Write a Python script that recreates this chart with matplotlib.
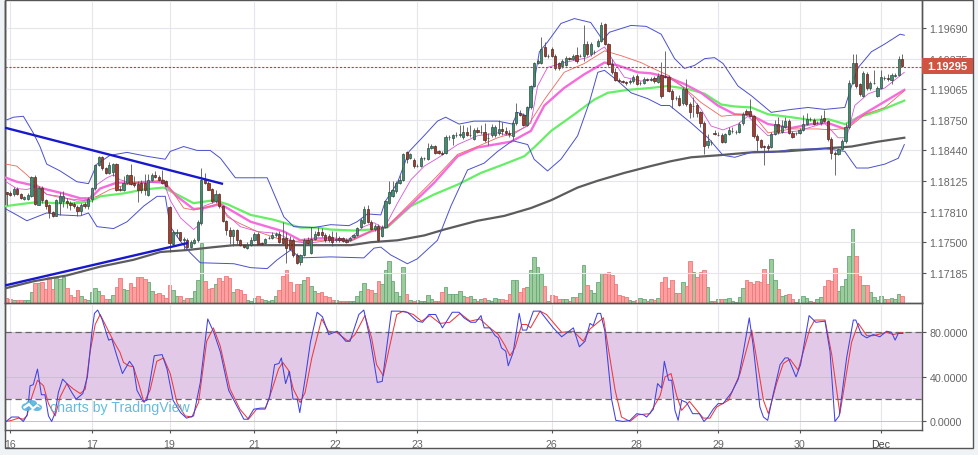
import numpy as np
import matplotlib
matplotlib.use('Agg')
import matplotlib.pyplot as plt
from matplotlib.patches import Rectangle, Ellipse, Polygon

plt.rcParams['font.family'] = ['Liberation Sans', 'DejaVu Sans']

# precios en pips sobre 1.17000, velas de 1 hora
BASE = 1.17
abre = [101,100,99,105,99,94,94,97,117,88,
    106,93,88,81,77,90,92,92,90,89,
    86,82,89,87,94,106,129,137,126,121,
    122,130,105,103,111,119,111,110,111,111,
    98,114,119,117,114,113,86,48,59,60,
    52,52,45,49,52,70,115,111,105,92,
    99,87,72,63,56,63,52,47,44,47,
    52,58,49,49,54,54,57,58,54,54,
    52,52,37,30,37,52,39,53,60,60,
    57,56,55,52,54,54,52,52,55,57,
    66,70,84,71,64,67,56,66,90,97,
    102,111,114,142,136,134,128,128,136,135,
    146,149,143,141,141,158,157,160,160,158,
    163,160,156,165,163,163,157,160,160,162,
    166,164,162,159,172,182,180,170,188,210,
    234,234,250,241,248,241,234,230,231,239,
    238,242,241,241,253,243,245,251,256,273,
    253,232,224,216,215,214,214,215,220,213,
    213,217,216,218,214,221,220,219,205,198,
    198,193,207,192,190,191,183,172,150,153,
    162,160,160,153,161,164,163,163,172,184,
    184,179,159,155,149,149,148,161,171,163,
    168,174,162,162,162,165,171,176,175,172,
    172,177,174,156,141,140,145,154,168,213,
    234,212,200,222,208,213,200,208,218,218,
    216,220,221,238]
cierra = [99,98,105,99,95,96,98,117,89,106,
    93,87,81,77,93,97,97,90,88,87,
    82,88,87,94,106,129,137,126,121,129,
    130,103,103,111,119,110,109,104,103,103,
    114,119,117,114,111,108,49,60,60,52,
    53,45,50,52,71,114,111,104,92,99,
    87,72,63,56,63,52,47,45,47,52,
    58,48,48,53,54,57,58,50,49,44,
    43,37,29,37,52,49,53,58,57,57,
    52,52,50,53,52,51,50,54,57,65,
    73,84,71,64,67,52,66,92,101,104,
    111,114,140,135,140,128,128,136,136,147,
    149,141,141,140,158,158,160,160,161,163,
    160,160,165,163,163,155,157,168,168,166,
    164,162,161,172,183,180,170,188,210,234,
    236,248,241,241,241,228,228,236,239,238,
    241,236,241,253,243,253,245,256,272,253,
    232,224,216,215,214,213,215,219,212,213,
    217,216,217,215,220,200,219,205,197,198,
    191,207,192,183,190,182,172,149,154,153,
    161,160,153,161,165,164,163,171,181,181,
    179,159,155,148,148,147,161,171,163,169,
    174,162,158,162,165,171,176,176,171,172,
    176,174,156,141,140,145,154,168,213,234,
    210,202,223,208,213,213,208,219,218,217,
    221,221,238,230]
maximo = [101,102,107,107,100,97,100,118,119,108,
    108,94,89,82,94,101,102,95,92,91,
    88,90,91,96,107,130,138,138,127,132,
    131,131,108,118,120,130,118,113,114,120,
    120,121,123,119,124,114,87,63,64,61,
    55,54,52,54,73,126,121,113,106,103,
    100,88,73,66,64,64,53,48,50,55,
    60,60,50,54,56,60,61,62,71,60,
    56,54,39,38,54,55,66,62,66,65,
    59,58,62,60,56,55,54,55,58,66,
    75,87,88,73,69,69,68,93,113,113,
    113,119,141,143,141,136,130,138,137,152,
    151,150,144,143,160,160,161,163,170,170,
    168,170,167,168,170,172,162,171,170,175,
    173,168,165,175,193,185,182,190,211,235,
    238,260,255,243,250,243,235,238,241,240,
    243,250,243,272,256,255,247,258,275,274,
    254,238,228,218,216,215,217,221,222,215,
    219,218,219,220,223,235,246,221,207,200,
    201,209,217,194,199,193,184,174,161,155,
    165,163,162,162,168,168,165,173,183,186,
    197,180,161,156,150,151,163,175,178,175,
    178,176,164,163,167,180,182,178,177,174,
    180,185,175,158,143,147,156,172,216,243,
    243,213,225,224,215,226,210,226,220,222,
    223,223,241,243]
minimo = [88,97,97,98,94,93,93,96,88,88,
    90,84,75,76,77,78,86,85,83,85,
    77,78,85,84,91,104,128,124,120,120,
    118,102,102,102,110,109,107,91,100,98,
    97,113,116,113,110,107,40,47,55,51,
    42,44,44,48,50,68,110,103,90,90,
    85,71,57,48,46,47,46,44,43,46,
    51,47,47,48,53,53,55,49,48,29,
    42,35,28,27,36,48,38,52,56,55,
    50,50,46,50,50,50,49,51,54,56,
    65,69,70,63,62,50,55,65,89,96,
    100,110,113,131,135,126,127,127,134,134,
    145,140,140,139,140,155,150,158,158,156,
    159,158,155,162,161,153,150,158,158,160,
    160,160,158,155,170,179,169,169,186,209,
    233,233,240,239,240,226,226,228,230,237,
    237,234,240,236,241,241,243,250,255,252,
    230,222,215,214,213,211,212,213,211,211,
    212,215,215,213,213,198,218,204,187,196,
    190,191,190,177,178,178,168,140,146,150,
    160,159,152,152,160,162,161,162,170,180,
    178,157,143,147,129,142,146,160,161,162,
    167,161,157,160,161,164,170,174,170,171,
    170,173,154,135,119,139,144,152,166,212,
    208,200,199,206,206,212,199,207,216,215,
    212,219,220,229]
volumen = [5,4,3,3,3,3,3,11,20,20,
    21,14,26,14,25,24,26,15,8,6,
    13,7,4,3,11,15,12,8,4,4,
    8,16,25,14,13,20,16,26,26,24,
    21,12,9,10,8,5,18,13,7,7,
    3,5,5,12,23,60,22,14,15,19,
    25,22,27,25,11,14,13,9,3,2,
    5,7,4,3,2,3,7,13,27,33,
    21,11,19,19,23,26,17,12,10,11,
    7,6,3,3,2,2,2,2,2,7,
    12,20,14,13,10,22,19,33,42,22,
    11,7,36,9,3,2,3,2,2,8,
    4,2,2,11,16,9,9,9,12,7,
    6,7,4,2,4,5,3,2,5,4,
    4,3,9,23,23,11,15,16,33,46,
    36,29,17,2,8,7,4,4,4,2,
    6,6,10,38,18,13,10,21,30,29,
    31,28,19,8,7,6,3,2,3,5,
    4,2,4,3,5,21,26,15,23,10,
    10,21,17,42,31,26,31,33,16,2,
    2,4,4,4,5,2,1,6,15,23,
    21,19,22,21,34,19,44,23,14,7,
    8,9,4,1,4,7,5,2,1,4,
    6,17,23,22,35,12,17,24,47,74,
    47,27,18,18,11,6,3,7,4,4,
    5,4,9,7]

# bandas de bollinger (barra, pips)
banda_sup_x = [-0.2,1.9,4.7,7.5,9.4,11.3,15.1,19.8,23.1,25.5,29.2,34,39.6,44.8,46.2,50,53.8,57.5,60.4,64.6,73.6,78.3,81.1,86.8,91.5,
    96.7,99,101.9,105.7,107,110.4,113.7,117.9,121.7,124,127.8,132,138.7,142.9,144.3,147.2,149,150.5,152.8,156.6,160.4,165,168.4,170.3,176.4,180.7,184.9,
    188.7,191.5,194.3,197.2,200,202.4,206.6,210.4,216,221.7,226.4,231.1,236.8,238.7,240.6,244.3,248.1,252.4,253.6]
banda_sup_y = [175,178,179,162,148,130,123,112,110,130,139,142,138,135,143,148,144,144,136,116,116,76,66,65,68,
    67,71,79,78,92,111,143,159,174,178,171,174,174,171,183,179,214,245,255,274,279,275,257,265,272,271,263,
    238,228,231,238,239,233,210,200,183,186,188,186,188,210,229,245,253,263,262]
banda_inf_x = [-0.2,2.8,5.7,8.5,11.3,15.1,20.8,23.1,25.5,30.2,34,38.7,42.5,44.8,46.2,49.1,51.9,54.7,64.2,68.9,73.6,76.4,80.2,83,91.5,
    100.9,103.8,105.7,108.5,113.2,116,121.7,125.5,130.2,134.9,138.7,142.9,147.2,149,152.8,156.6,161.3,164.6,167,168.9,172.7,176.4,181.1,184.9,
    187.3,193.4,198.1,202.4,205.7,211.3,216,221.7,231.1,236.8,238.7,240.1,243.4,248.1,251.9,253.6]
banda_inf_y = [84,78,72,76,80,78,77,80,66,64,71,87,97,97,66,51,39,29,28,24,23,32,42,34,35,
    34,44,45,37,28,33,52,87,124,131,143,154,150,135,123,135,159,193,224,226,215,203,197,190,
    190,172,157,139,137,143,142,145,146,143,133,126,126,130,136,150]

# medias moviles
rosa_x = [-0.2,2.8,6.6,11.3,16,20.8,23.6,26.4,31.1,35.8,40.6,44.3,48.1,52.8,55.7,60.4,64.2,68.9,73.6,78.3,83,87.7,91.5,
    97.2,102.8,107.5,114.2,120.8,127.4,133,142.5,148.1,151.9,157.5,163.2,168.9,172.7,178.3,182,
    186.8,191.5,196.2,200.9,205.7,210.4,215.1,221.7,227.4,232.1,236.8,240.6,246.2,253.6]
rosa_y = [116,112,109,104,100,95,95,105,111,111,112,111,97,84,85,89,81,71,66,61,52,54,54,
    52,61,66,88,111,138,147,153,164,190,208,222,234,231,224,223,
    219,212,203,190,181,180,171,167,171,172,166,178,190,206]
verde_x = [-0.2,3.8,8.5,14.2,19.8,23.6,26.4,33,38.7,44.3,48.1,52.8,58.5,62.3,68.9,75.5,83,87.7,91.5,
    98.1,102.8,107.5,114.2,120.8,127.4,134,140.6,146.2,149,153.8,160.4,166,169.8,175.5,182,
    186.8,192.4,197.2,201.9,205.7,210.4,215.1,221.7,227.4,232.1,236.8,240.6,246.2,253.6]
verde_y = [87,89,91,90,90,92,97,100,104,106,99,90,93,89,78,73,65,65,63,
    62,63,65,87,99,109,121,130,138,147,164,181,196,203,206,208,
    210,207,202,191,189,188,181,178,175,176,171,178,184,195]
gris_x = [-0.2,7.5,17,26.4,35.8,43.4,50.9,58.5,64.2,73.6,91.5,97.2,102.8,110.4,118,123.6,133,140.6,148.1,153.8,161.3,167,174.5,182,
    187.7,193.4,200.9,210.4,219.8,231.1,238.7,246.2,253.6]
gris_y = [3,10,16,25,32,40,42,45,47,47,47,47,50,52,57,63,72,77,85,93,106,113,121,128,
    133,137,139,142,143,146,148,153,157]
fina_rosa_x = [-0.2,2.8,5.7,8.5,11.3,15.1,19.8,23.1,25.5,28.3,30.2,32,35.8,40.6,44.3,46.2,49.1,52.8,54.7,55.7,59.4,62.3,66,70.8,76.4,81.1,84.9,91.5,
    96.2,100.9,103.8,106.6,110.4,114.2,118,121.7,127.4,133,138.7,142.5,148.1,150,152.8,157.5,164.1,168.9,171.7,174.5,179.2,186.8,
    191.5,196.2,199,202.4,206.6,209.4,211.7,215.1,218.9,223.6,231.1,234.9,237.3,239.6,243.4,248.1,253.6]
fina_rosa_y = [112,105,104,107,99,97,92,93,109,116,119,114,110,111,112,93,75,63,69,87,92,78,66,61,59,51,49,52,
    52,66,70,64,90,114,128,136,150,159,162,159,172,210,229,234,239,250,234,219,215,219,
    208,186,169,165,171,179,171,159,162,164,172,157,157,190,202,208,224]
fina_roja_x = [-0.2,2.8,5.7,8.5,11.3,16,21.7,25.5,29.2,35.8,40.6,44.3,47.2,50,52.8,57.5,60.4,62.3,66,70.8,76.4,81.1,87.7,91.5,
    97.2,103.8,107.5,113.2,119.8,127.4,133,138.7,142.5,147.2,151.9,157.5,163.2,168.9,173.6,179.2,182,
    186.8,191.5,196.2,201.9,207.5,211.3,215.1,221.7,229.2,233,237.7,242.5,248.1,253.6]
fina_roja_y = [130,128,119,109,99,95,93,97,104,111,112,114,100,85,83,87,90,76,69,61,54,51,52,52,
    51,63,66,87,111,140,148,157,161,169,196,224,233,246,241,234,229,
    221,208,193,179,181,179,162,166,166,165,167,181,188,205]

# lineas de tendencia dibujadas a mano
tend_baja_x = [-0.2, 60.8]
tend_baja_y = [167, 110]
tend_alza_x = [-0.2, 50.9]
tend_alza_y = [6, 49]

# estocastico
k_x = [-0.2,1.4,3.3,4.7,5.8,6.6,7.5,8.7,9.8,10.8,11.8,12.7,13.7,14.6,15.8,17,18.4,19.6,21.5,22.8,24.1,24.8,25.7,26.9,28.8,29.7,31.1,32.7,34.7,35.8,36.8,38.5,39.6,41.7,43.9,45.3,47,49.1,50.8,52.8,54.7,56.8,58.5,60.4,62.7,64.2,67,68.1,69.8,71.7,73.1,74.3,75.7,76.9,77.6,78.8,79.9,80.9,82.1,82.8,84.4,85.8,87.7,89.2,91,93.4,95.8,97,99.5,100.9,102.8,104.7,106.1,108.7,110.8,113.2,116,117.5,119.3,121.2,123.1,125.9,127.8,129.2,131.1,132.5,134,134.9,136.5,
    138,138.9,139.8,141,141.7,143.1,144.8,145.7,146.9,148.8,150.7,154.4,156.8,160.1,161.8,163.4,164.8,165.7,166.9,167.8,169,170.9,172.1,174.2,176.1,178,179.9,180.8,182.7,183.9,185,185.8,187,187.9,188.8,189.7,190.7,192.1,193.8,195.7,197,198.2,199.6,201,202.4,204.8,206.7,208.1,209.8,210.9,212.8,213.8,215,216.6,218.5,219.9,220.8,223,224.3,226.7,228.6,231.2,232.6,234,235.2,237.3,239.2,239.9,241.5,243,244.8,246.7,248.6,250,251,251.9,253.2]
k_y = [0,4,4,0,6,32,33,47,24,24,5,0,8,26,38,34,26,20,25,40,81,97,100,92,73,74,59,43,54,49,28,18,19,59,60,47,19,8,3,5,35,92,80,62,28,19,2,2,11,12,12,22,51,52,57,34,45,20,20,8,40,71,98,94,78,81,72,72,96,100,72,35,36,99,99,98,90,89,96,96,84,98,98,93,89,89,95,84,84,
    77,75,66,63,50,62,97,82,82,99,99,84,76,84,67,72,88,86,97,97,81,20,1,0,1,7,6,4,11,34,30,54,37,37,10,1,19,17,7,7,0,4,11,16,16,26,38,62,93,68,13,4,1,25,51,57,57,40,51,95,89,90,63,0,5,57,91,91,78,75,78,76,81,80,73,79,79]
d_x = [-0.2,1.4,3.3,4.7,5.7,7.1,8.7,10.4,11.8,13.7,15.1,17,18.9,20.8,22.2,23.6,25,26.4,28.3,30.2,32,33,34.4,35.8,37.2,38.8,40.5,42.4,44.3,46.2,48.1,50.4,52.3,54.2,56.5,58.4,60.3,63.1,65.9,68.3,70.6,73,74.9,76.8,78,79.6,81,82.9,84.3,86.2,89,90.9,93.2,96.5,98.4,101.2,103.1,104.5,106.4,108.3,110.2,112,114.9,117.2,119.6,122.4,125.2,128.1,130.9,133.7,136.5,
    138.9,140.8,142.2,143.6,145.5,146.9,148,150.7,152.5,156.8,160.1,162.9,164.8,168.6,169.5,171.9,173.7,176.1,178.4,181.7,184.6,186,187.7,189.3,190.7,192.9,196.8,198.7,200.6,203.9,207.2,210.5,211.9,213.8,215.2,217.5,219.4,221.3,223.6,226.9,228.3,231.2,233.1,235.4,238.7,240.6,243,244.8,248.6,250.5,253.2]
d_y = [0,1,3,2,5,22,37,32,16,5,22,34,29,25,29,63,87,96,84,72,62,53,50,49,35,17,28,54,57,43,17,5,4,17,72,84,68,29,11,2,11,11,28,47,53,46,29,17,26,57,92,81,80,72,78,95,75,51,41,69,96,99,96,90,95,88,89,97,90,92,84,
    78,68,59,66,87,87,84,99,96,80,81,72,83,93,75,28,4,0,6,7,23,40,43,23,10,18,3,3,13,19,43,82,56,19,7,34,52,56,46,83,91,91,60,7,71,88,77,77,80,78,80]

# ejes
precios_eje = [1.19690, 1.19375, 1.19065, 1.18750, 1.18440, 1.18125, 1.17810, 1.17500, 1.17185]
dias_x = [1, 24, 46, 70, 93, 116, 154, 178, 201, 224, 247]
dias_txt = ['16', '17', '19', '21', '22', '23', '26', '28', '29', '30', 'Dec']
ultimo_precio = 1.19295
niveles_osc = [0, 40, 80]


ANCHO = 979.0
ALTO = 456.0


def caja(x0, y0, x1, y1):
    # pasa pixeles de la imagen a coordenadas de figura
    return [x0/ANCHO, 1-y1/ALTO, (x1-x0)/ANCHO, (y1-y0)/ALTO]


def a_precio(lista):
    return BASE + np.array(lista, dtype=float)/10000.0


fig = plt.figure(figsize=(9.79, 4.56), dpi=100, facecolor='#f0f3f6')

# marco blanco de fondo
fondo = fig.add_axes([0, 0, 1, 1], zorder=0)
fondo.set_xlim(0, ANCHO)
fondo.set_ylim(ALTO, 0)
fondo.axis('off')
fondo.add_patch(Rectangle((5.5, 0.5), 967.5, 448.8, facecolor='white', edgecolor='#555555', lw=1.0))

ax = fig.add_axes(caja(5.5, 2, 922, 304), zorder=2)
ax.patch.set_alpha(0)
osc = fig.add_axes(caja(5.5, 304, 922, 430.5), zorder=2, sharex=ax)
osc.patch.set_alpha(0)

xs = np.arange(len(abre))
o = a_precio(abre)
c = a_precio(cierra)
h = a_precio(maximo)
l = a_precio(minimo)
sube = c >= o

# volumen en un eje aparte abajo del panel
axv = ax.twinx()
axv.set_ylim(0, 302)
axv.set_yticks([])
axv.bar(xs[sube], np.array(volumen)[sube], 1.0, color='#9ccb9c', edgecolor='#6aa77a', linewidth=0.6, zorder=1)
axv.bar(xs[~sube], np.array(volumen)[~sube], 1.0, color='#ff9e9e', edgecolor='#e87c7c', linewidth=0.6, zorder=1)
axv.set_zorder(1)
ax.set_zorder(3)

# grilla
for p in precios_eje:
    ax.axhline(p, color='#e4e6ec', lw=0.8, zorder=0)
for d in dias_x:
    ax.axvline(d, color='#e4e6ec', lw=0.8, zorder=0)
    osc.axvline(d, color='#e4e6ec', lw=0.8, zorder=0)

# indicadores
ax.plot(gris_x, a_precio(gris_y), color='#5c5c5c', lw=1.6, zorder=3)
ax.plot(verde_x, a_precio(verde_y), color='#66ee66', lw=1.6, zorder=3)
ax.plot(rosa_x, a_precio(rosa_y), color='#f56cdc', lw=1.7, zorder=3)
ax.plot(fina_roja_x, a_precio(fina_roja_y), color='#f0655a', lw=0.6, zorder=3)
ax.plot(fina_rosa_x, a_precio(fina_rosa_y), color='#d855d8', lw=0.6, zorder=3)
ax.plot(banda_sup_x, a_precio(banda_sup_y), color='#4a50cc', lw=0.7, zorder=3)
ax.plot(banda_inf_x, a_precio(banda_inf_y), color='#4a50cc', lw=0.7, zorder=3)

# velas
ax.vlines(xs, l, h, color='#555555', lw=0.6, zorder=4)
ax.bar(xs[sube], (c-o)[sube], 0.62, bottom=o[sube], color='#3f8f70', edgecolor='#2f4f44', linewidth=0.5, zorder=5)
ax.bar(xs[~sube], (o-c)[~sube], 0.62, bottom=c[~sube], color='#a83a2e', edgecolor='#4a2a26', linewidth=0.5, zorder=5)

ax.plot(tend_baja_x, a_precio(tend_baja_y), color='#1818cc', lw=1.7, zorder=6)
ax.plot(tend_alza_x, a_precio(tend_alza_y), color='#1818cc', lw=1.7, zorder=6)

ax.axhline(ultimo_precio, color='#e0302e', lw=0.8, dashes=(2, 1.5), zorder=6)

# estocastico
osc.axhspan(20, 80, color='#e2c9e7', lw=0, zorder=1)
for n in niveles_osc:
    osc.axhline(n, color='#c9bfd0', lw=0.7, zorder=1)
for n in [20, 80]:
    osc.axhline(n, color='#666666', lw=0.9, dashes=(5, 3), zorder=2)
osc.plot(d_x, d_y, color='#f0393a', lw=0.75, zorder=3)
osc.plot(k_x, k_y, color='#3f42e0', lw=0.75, zorder=4)

ax.set_xlim(-0.34, 258.6)
ax.set_ylim(1.16878, 1.1997)
axv.set_xlim(-0.34, 258.6)
osc.set_ylim(-7.2, 106.3)

color_txt = '#666666'
ax.yaxis.tick_right()
ax.set_yticks(precios_eje)
ax.set_yticklabels(['%.5f' % p for p in precios_eje])
ax.tick_params(axis='y', length=3, width=0.8, color='#555555', labelcolor=color_txt, labelsize=7.7, pad=2.5)
ax.tick_params(axis='x', bottom=False, labelbottom=False)

osc.yaxis.tick_right()
osc.set_yticks(niveles_osc)
osc.set_yticklabels(['%.4f' % n for n in niveles_osc])
osc.tick_params(axis='y', length=3, width=0.8, color='#555555', labelcolor=color_txt, labelsize=7.7, pad=2.5)
osc.set_xticks(dias_x)
osc.set_xticklabels(dias_txt)
osc.tick_params(axis='x', length=2.5, width=0.8, color='#555555', labelcolor=color_txt, labelsize=7.7, pad=4)
for t in osc.get_xticklabels():
    if t.get_text() == 'Dec':
        t.set_color('#444444')

for a in [ax, axv, osc]:
    a.spines['top'].set_visible(False)
    a.spines['left'].set_color('#555555')
    a.spines['right'].set_color('#555555')
    a.spines['bottom'].set_color('#555555')
    a.spines['left'].set_linewidth(1.0)
    a.spines['right'].set_linewidth(1.0)
    a.spines['bottom'].set_linewidth(1.0)

# capa de arriba: etiqueta del ultimo precio y marca de agua
capa = fig.add_axes([0, 0, 1, 1], zorder=5)
capa.set_xlim(0, ANCHO)
capa.set_ylim(ALTO, 0)
capa.axis('off')
capa.patch.set_alpha(0)
capa.add_patch(Rectangle((922, 59), 51, 15.5, facecolor='#cf5443', edgecolor='none'))
capa.text(947.5, 66.8, '%.5f' % ultimo_precio, color='white', fontsize=8.0, fontweight='bold', ha='center', va='center')

azul = '#55b3dc'
capa.add_patch(Ellipse((27, 408), 11, 8, facecolor=azul, edgecolor='none', alpha=0.9))
capa.add_patch(Ellipse((37, 408.5), 10, 7, facecolor=azul, edgecolor='none', alpha=0.9))
capa.add_patch(Ellipse((31.5, 404.5), 11, 7, facecolor=azul, edgecolor='none', alpha=0.9))
capa.add_patch(Polygon([[23, 408], [29, 403.5], [33, 408], [37, 405], [41, 409], [37, 407.5], [33, 411], [29, 407], [24, 410]],
                       closed=True, facecolor='white', edgecolor='none'))
capa.text(50, 408, 'charts by TradingView', color=azul, fontsize=10.2, alpha=0.9, ha='left', va='center')

fig.savefig('out.png', dpi=100, facecolor=fig.get_facecolor())
